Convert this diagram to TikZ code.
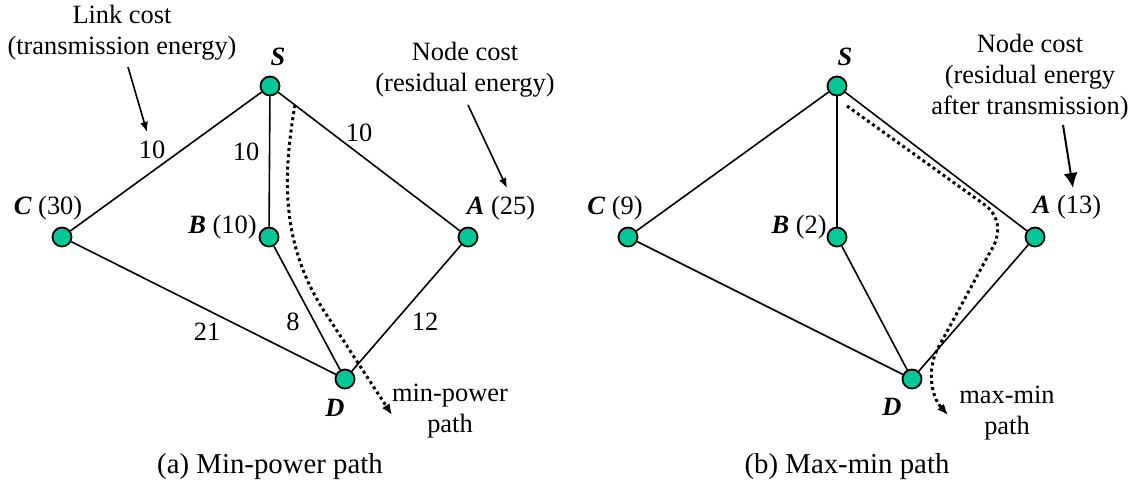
\documentclass[tikz,border=0pt]{standalone}
\usepackage{fontspec}
\setmainfont{Liberation Serif}
\usetikzlibrary{arrows.meta}
\definecolor{nodegreen}{RGB}{0,200,150}
\begin{document}
\begin{tikzpicture}[x=0.5pt,y=-0.5pt,
 vtx/.style={circle,draw=black,fill=nodegreen,line width=0.9pt,minimum size=9.5pt,inner sep=0pt},
 edge/.style={line width=0.8pt},
 lbl/.style={inner sep=0pt,font=\fontsize{13.2}{15.5}\selectfont},
 captext/.style={inner sep=0pt,font=\fontsize{14.4}{17}\selectfont},
 note/.style={inner sep=0pt,align=center,font=\fontsize{13.2}{15.5}\selectfont},
 pathline/.style={line width=1.5pt,dash pattern=on 1.5pt off 1.6pt,-{Latex[length=5.5pt,width=4.5pt]}},
 notearrow/.style={line width=0.8pt,-{Latex[length=5pt,width=4pt]}},
 bignotearrow/.style={line width=1pt,-{Latex[length=7.5pt,width=7pt]}},
]
\useasboundingbox (0,0) rectangle (1138,493);

% ---------- (a) ----------
\node[vtx] (S1) at (270,86) {};
\node[vtx] (C1) at (62,237) {};
\node[vtx] (B1) at (269,237) {};
\node[vtx] (A1) at (468,237) {};
\node[vtx] (D1) at (345,379) {};

\draw[edge] (S1) -- (C1);
\draw[edge] (S1) -- (B1);
\draw[edge] (S1) -- (A1);
\draw[edge] (C1) -- (D1);
\draw[edge] (B1) -- (D1);
\draw[edge] (A1) -- (D1);

\node[lbl] (lS1) at (278,57) {\textbf{\textit{S}}};
\node[lbl] (lC1) at (48,208) {\textbf{\textit{C}} (30)};
\node[lbl,anchor=east] (lB1) at (257,227) {\textbf{\textit{B}} (10)};
\node[lbl] (lA1) at (501,208) {\textbf{\textit{A}} (25)};
\node[lbl] (lD1) at (335,408) {\textbf{\textit{D}}};

\node[lbl] (eSC1) at (152,150) {10};
\node[lbl] (eSB1) at (246,152) {10};
\node[lbl] (eSA1) at (359,133) {10};
\node[lbl] (eCD1) at (207,332) {21};
\node[lbl] (eBD1) at (293,322) {8};
\node[lbl] (eAD1) at (425,322) {12};

\coordinate (p1s) at (295,105);
\coordinate (p1e) at (392,415);
\draw[pathline] (p1s) .. controls (280,190) and (285,255) .. (330,320) -- (p1e);
\node[note] (pl1) at (450,411) {min-power\\path};

\node[note] (n1) at (122,33) {Link cost\\(transmission energy)};
\coordinate (n1s) at (128,67);
\coordinate (n1e) at (147,132);
\draw[notearrow] (n1s) -- (n1e);

\node[note] (n2) at (465,70) {Node cost\\(residual energy)};
\coordinate (n2s) at (468,105);
\coordinate (n2e) at (507,188);
\draw[notearrow] (n2s) -- (n2e);

\node[captext] (capa) at (270,467) {(a) Min-power path};

% ---------- (b) ----------
\node[vtx] (S2) at (837,86) {};
\node[vtx] (C2) at (628,237) {};
\node[vtx] (B2) at (837,237) {};
\node[vtx] (A2) at (1035,237) {};
\node[vtx] (D2) at (912,379) {};

\draw[edge] (S2) -- (C2);
\draw[edge] (S2) -- (B2);
\draw[edge] (S2) -- (A2);
\draw[edge] (C2) -- (D2);
\draw[edge] (B2) -- (D2);
\draw[edge] (A2) -- (D2);

\node[lbl] (lS2) at (845,57) {\textbf{\textit{S}}};
\node[lbl] (lC2) at (615,208) {\textbf{\textit{C}} (9)};
\node[lbl,anchor=east] (lB2) at (827,227) {\textbf{\textit{B}} (2)};
\node[lbl] (lA2) at (1067,207) {\textbf{\textit{A}} (13)};
\node[lbl] (lD2) at (892,407) {\textbf{\textit{D}}};

\coordinate (p2s) at (847,106);
\coordinate (p2e) at (948,415);
\draw[pathline] (p2s) -- (985,205) .. controls (1002,218) and (1000,238) .. (990,252) -- (937,350) .. controls (928,368) and (930,395) .. (p2e);
\node[note] (pl2) at (1007,413) {max-min\\path};

\node[note] (n3) at (1030,77) {Node cost\\(residual energy\\after transmission)};
\coordinate (n3s) at (1063,125);
\coordinate (n3e) at (1073,188);
\draw[bignotearrow] (n3s) -- (n3e);

\node[captext] (capb) at (847,467) {(b) Max-min path};
\end{tikzpicture}
\end{document}
